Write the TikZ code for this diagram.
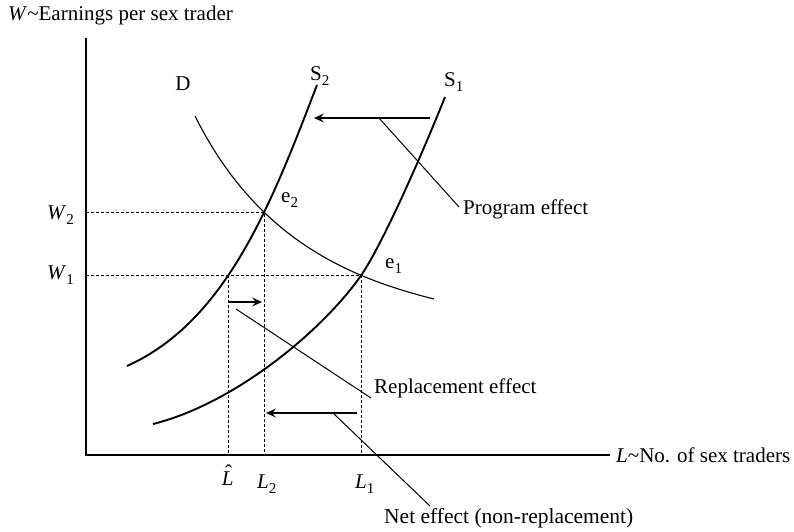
\documentclass[tikz,border=0pt]{standalone}
\usepackage{fontspec}
\setmainfont{Liberation Serif}
\usetikzlibrary{arrows.meta,intersections}
\newcommand{\lowsub}[1]{\raisebox{-0.28em}{\fontsize{15}{15}\selectfont #1}}
\newcommand{\Lhat}{\textit{L}\hspace{-0.40em}\raisebox{0.24em}{\char"02C6}\hspace{0.07em}}
\begin{document}
\begin{tikzpicture}[x=1pt,y=-1pt,
  lbl/.style={inner sep=0pt,font=\fontsize{21}{25}\selectfont},
  axisline/.style={line width=1.2pt},
  supply/.style={line width=1.9pt},
  demand/.style={line width=1.1pt},
  guide/.style={line width=0.8pt,dash pattern=on 3pt off 2pt},
  leader/.style={line width=1pt},
  shift arrow/.style={line width=1.9pt,-{Stealth[length=10pt,width=9pt,inset=4pt]}}]
\useasboundingbox (0,0) rectangle (794,531);
% axes
\coordinate (O) at (86,455);
\coordinate (ytop) at (86,38);
\coordinate (xend) at (610,455);
\draw[axisline] (ytop) -- (O) -- (xend);
\node[lbl,anchor=west] (ylab) at (8,15) {\textit{W}\textasciitilde Earnings per sex trader};
\node[lbl,anchor=west] (xlab) at (616,455) {\textit{L}\textasciitilde No. of sex traders};
% curves
\draw[demand,name path=D] (195,116) .. controls (255,236) and (344,276.5) .. (434,299);
\draw[supply,name path=S2] (127,366) .. controls (227,321) and (272,202) .. (317,85);
\draw[supply,name path=S1] (153,424) .. controls (233,404) and (319.4,333.7) .. (360,277)
  .. controls (380.3,248.6) and (420,159.5) .. (445,97);
% key points
\path[name intersections={of=D and S2,by=e2}];
\path[name intersections={of=D and S1,by=e1}];
\path[name path=hline] (O |- e1) -- (e1);
\path[name intersections={of=hline and S2,by=lh}];
% dashed guides
\draw[guide] (O |- e2) -- (e2) -- (O -| e2);
\draw[guide] (O |- e1) -- (e1) -- (O -| e1);
\draw[guide] (lh) -- (O -| lh);
% curve labels
\node[lbl,anchor=base] (Dl) at (183,90) {D};
\node[lbl,anchor=base west] (S2l) at (310,80) {S\lowsub{2}};
\node[lbl,anchor=base west] (S1l) at (444,86) {S\lowsub{1}};
\node[lbl,anchor=base west] (e2l) at (281,202) {e\lowsub{2}};
\node[lbl,anchor=base west] (e1l) at (385,268) {e\lowsub{1}};
% axis value labels
\node[lbl,anchor=base east] (W2l) at (74,219) {\textit{W}\lowsub{2}};
\node[lbl,anchor=base east] (W1l) at (74,279) {\textit{W}\lowsub{1}};
\node[lbl,anchor=base] (Lhl) at (227,485) {\Lhat};
\node[lbl,anchor=base west] (L2l) at (257,488) {\textit{L}\lowsub{2}};
\node[lbl,anchor=base west] (L1l) at (355,488) {\textit{L}\lowsub{1}};
% program effect
\coordinate (pa) at (430,118);
\coordinate (pb) at (314,118);
\coordinate (pm) at (379,118);
\coordinate (pe) at (459,207);
\draw[shift arrow] (pa) -- (pb);
\draw[leader] (pm) -- (pe);
\node[lbl,anchor=west] (prog) at (463,209) {Program effect};
% replacement effect
\coordinate (ra) at (lh |- 0,302);
\coordinate (rb) at (262,302);
\coordinate (rm) at (236,309);
\coordinate (re) at (371,398);
\draw[shift arrow] (ra) -- (rb);
\draw[leader] (rm) -- (re);
\node[lbl,anchor=west] (repl) at (374,388) {Replacement effect};
% net effect
\coordinate (na) at (357,413);
\coordinate (nb) at (266,413);
\coordinate (nm) at (333,413);
\coordinate (ne) at (430,506);
\draw[shift arrow] (na) -- (nb);
\draw[leader] (nm) -- (ne);
\node[lbl,anchor=west,font=\fontsize{21.5}{25}\selectfont] (net) at (384,518) {Net effect (non-replacement)};
\end{tikzpicture}
\end{document}
